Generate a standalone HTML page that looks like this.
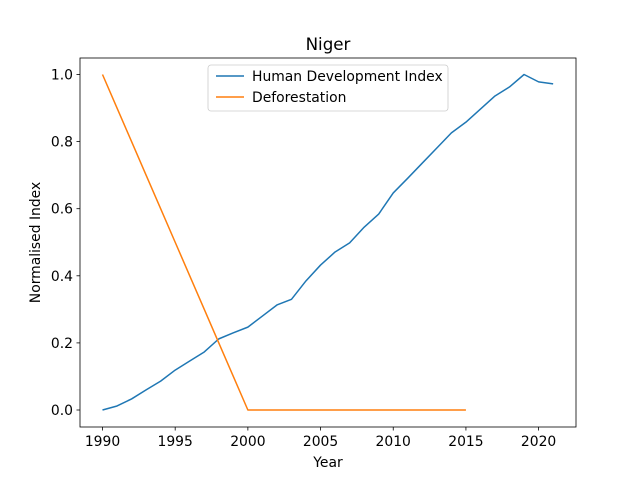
<!DOCTYPE html>
<html><head><meta charset="utf-8"><style>
body{margin:0;background:#fff}
svg text{font-family:"DejaVu Sans","Liberation Sans",sans-serif;fill:#000}
</style></head><body>
<svg id="chart" width="640" height="480" xmlns="http://www.w3.org/2000/svg">
<rect width="640" height="480" fill="#fff"/>
<text x="328" y="50" font-size="16.7" text-anchor="middle">Niger</text>
<g id="grid"></g>
<g id="plot"></g>
<rect x="80" y="58" width="496" height="369" fill="none" stroke="#000" stroke-width="0.8"/>
<text x="328" y="467" font-size="13.9" text-anchor="middle">Year</text>
<text transform="translate(40,242.5) rotate(-90)" font-size="13.9" text-anchor="middle">Normalised Index</text>
<g>
<rect x="208" y="65" width="240" height="46" rx="3" fill="#fff" fill-opacity="0.8" stroke="#ccc" stroke-width="0.8"/>
<line x1="216" y1="76" x2="244" y2="76" stroke="#1f77b4" stroke-width="1.5"/>
<text x="252" y="81" font-size="13.9">Human Development Index</text>
<line x1="216" y1="97" x2="244" y2="97" stroke="#ff7f0e" stroke-width="1.5"/>
<text x="252" y="102" font-size="13.9">Deforestation</text>
</g>
</svg>
<script>
const hdiYears=[1990,1991,1992,1993,1994,1995,1996,1997,1998,1999,2000,2001,2002,2003,2004,2005,2006,2007,2008,2009,2010,2011,2012,2013,2014,2015,2016,2017,2018,2019,2020,2021];
const hdiValues=[0,0.012,0.033,0.06,0.086,0.119,0.146,0.173,0.212,0.23,0.247,0.28,0.313,0.33,0.385,0.432,0.471,0.498,0.545,0.584,0.647,0.691,0.736,0.781,0.826,0.858,0.897,0.936,0.963,1.0,0.978,0.972];
const defYears=[1990,1991,1992,1993,1994,1995,1996,1997,1998,1999,2000,2001,2002,2003,2004,2005,2006,2007,2008,2009,2010,2011,2012,2013,2014,2015];
const defValues=[1,0.9,0.8,0.7,0.6,0.5,0.4,0.3,0.2,0.1,0,0,0,0,0,0,0,0,0,0,0,0,0,0,0,0];
const xTicks=[1990,1995,2000,2005,2010,2015,2020];
const yTicks=[0,0.2,0.4,0.6,0.8,1.0];
const yTickLabels=["0.0","0.2","0.4","0.6","0.8","1.0"];

const X=v=>102.5+(v-1990)*14.537;
const Y=v=>410-v*335.5;
const NS="http://www.w3.org/2000/svg";
const g=document.getElementById('grid'),p=document.getElementById('plot');
function mk(t,a,parent){const e=document.createElementNS(NS,t);for(const k in a)e.setAttribute(k,a[k]);parent.appendChild(e);return e;}
xTicks.forEach(v=>{
 const l=mk('line',{x1:X(v),x2:X(v),y1:427,y2:430.5,stroke:'#000','stroke-width':0.8},g);
 
 
 const t=mk('text',{x:X(v),y:446,'font-size':13.9,'text-anchor':'middle'},g);t.textContent=v;
 
 
});
yTicks.forEach((v,i)=>{
 const l=mk('line',{x1:76.5,x2:80,y1:Y(v),y2:Y(v),stroke:'#000','stroke-width':0.8},g);
 
 
 const t=mk('text',{x:73,y:Y(v)+5,'font-size':13.9,'text-anchor':'end'},g);t.textContent=yTickLabels[i];
 
 
});
const hdi=mk('polyline',{points:hdiYears.map((y,i)=>X(y)+','+Y(hdiValues[i])).join(' '),fill:'none',stroke:'#1f77b4','stroke-width':1.5,'stroke-linejoin':'round'},p);


const def=mk('polyline',{points:defYears.map((y,i)=>X(y)+','+Y(defValues[i])).join(' '),fill:'none',stroke:'#ff7f0e','stroke-width':1.5,'stroke-linejoin':'round'},p);


</script>
</body></html>
